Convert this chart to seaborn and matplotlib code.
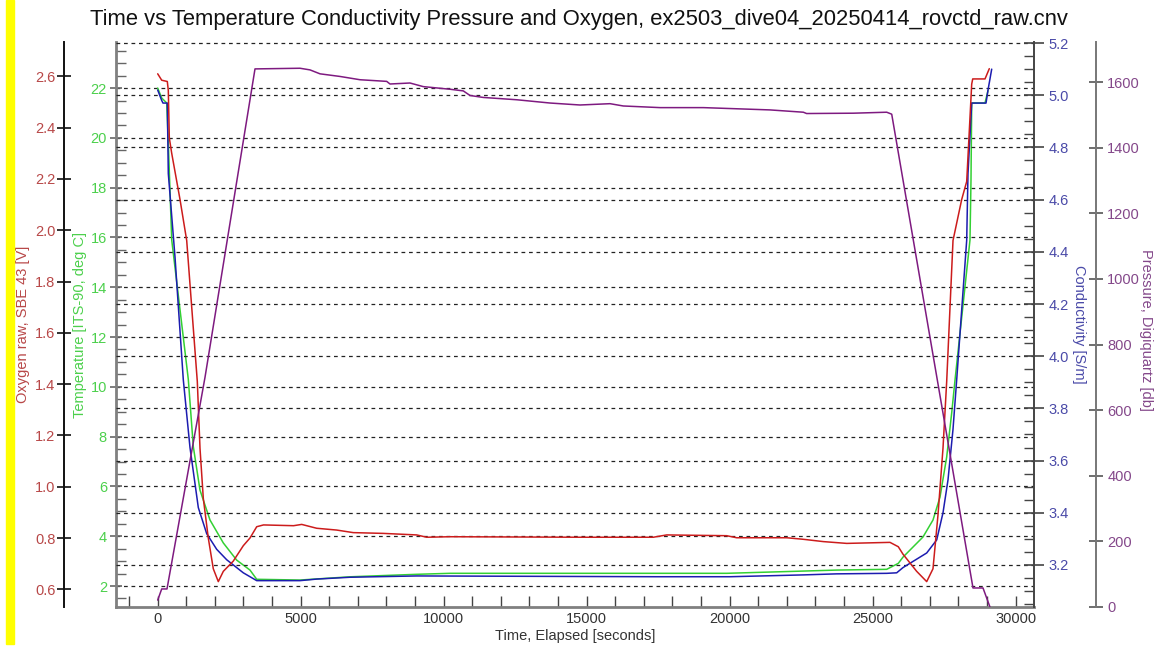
"""
Time vs temperature / conductivity / pressure / oxygen plot for a ROV CTD cast.
"""

import matplotlib.pyplot as plt
import matplotlib.ticker as mticker
import pandas as pd
import seaborn as sns
from matplotlib.patches import Rectangle

TITLE = "Time vs Temperature Conductivity Pressure and Oxygen, ex2503_dive04_20250414_rovctd_raw.cnv"

# oxygen raw, SBE 43 [V]
OXY_TIME = [0, 140, 336, 371, 406, 490, 780, 1014, 1385, 1479, 1594, 1769, 1944, 2119,
            2294, 2643, 2993, 3227, 3462, 3700, 4750, 5035, 5559, 6259, 6839, 7888, 9056,
            9406, 10220, 14766, 17329, 17797, 19895, 20245, 21993, 22573, 23273, 24091,
            25605, 25895, 26059, 26538, 26888, 27108, 27283, 27458, 27587, 27808, 28112,
            28287, 28462, 28497, 28927, 29077]
OXY_VALUE = [2.61, 2.585, 2.58, 2.545, 2.36, 2.30, 2.12, 1.96, 1.41, 1.15, 0.955, 0.80, 0.68,
             0.63, 0.67, 0.71, 0.77, 0.80, 0.844, 0.851, 0.848, 0.853, 0.838, 0.831, 0.821,
             0.818, 0.812, 0.803, 0.805, 0.803, 0.803, 0.812, 0.809, 0.801, 0.801, 0.795,
             0.786, 0.779, 0.783, 0.766, 0.737, 0.67, 0.63, 0.68, 0.89, 1.15, 1.41, 1.96,
             2.12, 2.19, 2.57, 2.59, 2.59, 2.63]

# temperature [ITS-90, deg C]
TEMP_TIME = [0, 140, 315, 371, 490, 1070, 1245, 1479, 1829, 2294, 2762, 3227, 3462, 4976,
             6724, 9056, 10220, 19895, 22573, 23741, 25490, 25895, 26059, 26759, 27108,
             27353, 27587, 27762, 27878, 28402, 28437, 28462, 28927, 29032]
TEMP_VALUE = [22.0, 21.6, 21.4, 19.8, 15.9, 10.3, 7.6, 5.85, 4.65, 3.73, 3.04, 2.64, 2.27,
              2.24, 2.37, 2.47, 2.51, 2.51, 2.60, 2.64, 2.67, 2.91, 3.16, 3.97, 4.65, 5.57,
              7.18, 8.95, 10.27, 15.9, 18.3, 21.4, 21.4, 21.9]

# conductivity [S/m]
COND_TIME = [0, 140, 185, 336, 371, 605, 895, 1129, 1420, 1713, 2063, 2413, 2993, 3462,
             4976, 5559, 6724, 9056, 17448, 20010, 22573, 23741, 25490, 25839, 26059,
             26888, 27238, 27458, 27633, 27808, 27937, 28287, 28332, 28462, 28962, 29032,
             29161]
COND_VALUE = [5.02, 4.98, 4.97, 4.97, 4.70, 4.38, 3.91, 3.65, 3.42, 3.32, 3.26, 3.22, 3.17,
              3.14, 3.14, 3.146, 3.153, 3.158, 3.155, 3.155, 3.162, 3.166, 3.168, 3.17,
              3.19, 3.246, 3.296, 3.40, 3.526, 3.72, 3.91, 4.445, 4.70, 4.97, 4.97, 5.02,
              5.10]

# pressure, digiquartz [db]
PRES_TIME = [0, 140, 325, 1654, 3402, 4975, 5325, 5675, 6374, 7073, 8007, 8122, 8822, 9287,
             10220, 10685, 10920, 11385, 12552, 13717, 14766, 15815, 16280, 17570, 19080,
             21410, 22575, 22690, 24320, 25490, 25665, 28507, 28857, 29100]
PRES_VALUE = [21, 55, 55, 700, 1640, 1642, 1637, 1625, 1617, 1607, 1602, 1594, 1597, 1586,
              1578, 1573, 1559, 1553, 1546, 1536, 1530, 1534, 1527, 1522, 1522, 1515, 1508,
              1504, 1505, 1508, 1502, 58, 58, 0]

OXY_COLOR, OXY_TEXT = "#cc1c1c", "#b84848"
TEMP_COLOR, TEMP_TEXT = "#33d033", "#4cd04c"
COND_COLOR, COND_TEXT = "#1c1cb0", "#4a4aa8"
PRES_COLOR, PRES_TEXT = "#7e1a80", "#84488a"

sns.set_style("white")
plt.rcParams["font.family"] = ["Liberation Sans", "DejaVu Sans"]


def style_axis(axis, color, text_color, major_len=10, pad=3.5, minor=None):
    axis.tick_params(axis="y", which="major", direction="inout", length=major_len,
                     width=1.2, color=color, labelcolor=text_color, labelsize=10.5, pad=pad)
    if minor is not None:
        axis.yaxis.set_minor_locator(mticker.MultipleLocator(minor))
        axis.tick_params(axis="y", which="minor", direction="in", length=7,
                         width=1.0, color=color)


def main():
    oxy = pd.DataFrame({"time": OXY_TIME, "value": OXY_VALUE})
    temp = pd.DataFrame({"time": TEMP_TIME, "value": TEMP_VALUE})
    cond = pd.DataFrame({"time": COND_TIME, "value": COND_VALUE})
    pres = pd.DataFrame({"time": PRES_TIME, "value": PRES_VALUE})

    fig = plt.figure(figsize=(11.59, 6.52), dpi=100)
    ax = fig.add_axes([116 / 1159, 1 - 607 / 652, 918 / 1159, 565 / 652])
    ax_cond = ax.twinx()
    ax_oxy = ax.twinx()
    ax_pres = ax.twinx()

    # yellow marker strip on the left
    fig.patches.append(Rectangle((6 / 1159, 8 / 652), 8 / 1159, 644 / 652,
                                 transform=fig.transFigure, color="#ffff00", zorder=0))

    grid_kw = dict(color="#222222", linestyle=(0, (3, 3)), linewidth=0.9)
    ax.yaxis.grid(True, **grid_kw)
    ax_cond.yaxis.grid(True, **grid_kw)

    sns.lineplot(data=oxy, x="time", y="value", ax=ax_oxy, color=OXY_COLOR,
                 linewidth=1.1, sort=False, estimator=None)
    sns.lineplot(data=temp, x="time", y="value", ax=ax, color=TEMP_COLOR,
                 linewidth=1.1, sort=False, estimator=None)
    sns.lineplot(data=cond, x="time", y="value", ax=ax_cond, color=COND_COLOR,
                 linewidth=1.1, sort=False, estimator=None)
    sns.lineplot(data=pres, x="time", y="value", ax=ax_pres, color=PRES_COLOR,
                 linewidth=1.1, sort=False, estimator=None)

    ax.set_xlim(-1458, 30640)
    ax.set_ylim(1.157, 23.85)
    ax_oxy.set_ylim(0.531, 2.734)
    ax_cond.set_ylim(3.039, 5.204)
    ax_pres.set_ylim(0, 1722)

    # spines
    for a in (ax, ax_cond, ax_oxy, ax_pres):
        for side in ("top", "left", "right", "bottom"):
            a.spines[side].set_visible(False)
    ax.spines["left"].set_visible(True)
    ax.spines["left"].set_color("#808080")
    ax.spines["left"].set_linewidth(2)
    ax.spines["bottom"].set_visible(True)
    ax.spines["bottom"].set_color("#808080")
    ax.spines["bottom"].set_linewidth(2)
    ax_cond.spines["right"].set_visible(True)
    ax_cond.spines["right"].set_color("#444444")
    ax_cond.spines["right"].set_linewidth(1.4)
    ax_oxy.spines["left"].set_visible(True)
    ax_oxy.spines["left"].set_position(("axes", -0.0563))
    ax_oxy.spines["left"].set_color("#111111")
    ax_oxy.spines["left"].set_linewidth(1.4)
    ax_oxy.yaxis.set_ticks_position("left")
    ax_oxy.yaxis.set_label_position("left")
    ax_pres.spines["right"].set_visible(True)
    ax_pres.spines["right"].set_position(("axes", 1.067))
    ax_pres.spines["right"].set_color("#777777")
    ax_pres.spines["right"].set_linewidth(1.4)

    # ticks
    ax.xaxis.set_major_locator(mticker.MultipleLocator(5000))
    ax.xaxis.set_minor_locator(mticker.MultipleLocator(1000))
    ax.tick_params(axis="x", which="both", direction="in", length=8, width=1.0,
                   color="#444444", labelsize=10.5, labelcolor="#333333", bottom=True)
    ax.yaxis.set_major_locator(mticker.MultipleLocator(2))
    ax_oxy.yaxis.set_major_locator(mticker.MultipleLocator(0.2))
    ax_oxy.yaxis.set_major_formatter(mticker.FormatStrFormatter("%.1f"))
    ax_cond.yaxis.set_major_locator(mticker.MultipleLocator(0.2))
    ax_cond.yaxis.set_major_formatter(mticker.FormatStrFormatter("%.1f"))
    ax_pres.yaxis.set_major_locator(mticker.MultipleLocator(200))

    style_axis(ax, "#666666", TEMP_TEXT, major_len=9, pad=2.0, minor=0.5)
    style_axis(ax_oxy, "#111111", OXY_TEXT, major_len=10, pad=1.5)
    style_axis(ax_cond, "#444444", COND_TEXT, major_len=14, minor=0.05)
    style_axis(ax_pres, "#555555", PRES_TEXT, major_len=10)
    ax.tick_params(axis="y", left=True, which="both")
    ax_oxy.tick_params(axis="y", left=True, right=False)
    ax_cond.tick_params(axis="y", which="both", right=True)
    ax_pres.tick_params(axis="y", right=True)

    # labels
    ax.set_xlabel("Time, Elapsed [seconds]", fontsize=10.5, color="#333333", labelpad=2)
    ax.set_ylabel("Temperature [ITS-90, deg C]", fontsize=10.5, color=TEMP_TEXT)
    ax.yaxis.set_label_coords(-0.0316, 0.5)
    ax_oxy.set_ylabel("Oxygen raw, SBE 43 [V]", fontsize=10.5, color=OXY_TEXT)
    ax_oxy.yaxis.set_label_coords(-0.0937, 0.5)
    ax_cond.set_ylabel("Conductivity [S/m]", fontsize=10.5, color=COND_TEXT, rotation=-90,
                       va="center")
    ax_cond.yaxis.set_label_coords(1.049, 0.5)
    ax_pres.set_ylabel("Pressure, Digiquartz [db]", fontsize=10.5, color=PRES_TEXT,
                       rotation=-90, va="center")
    ax_pres.yaxis.set_label_coords(1.122, 0.49)

    fig.text(579 / 1159, 1 - 19 / 652, TITLE, ha="center", va="center", fontsize=15.8,
             color="#111111")

    fig.savefig("out.png", dpi=100)
    plt.close(fig)


if __name__ == "__main__":
    main()
